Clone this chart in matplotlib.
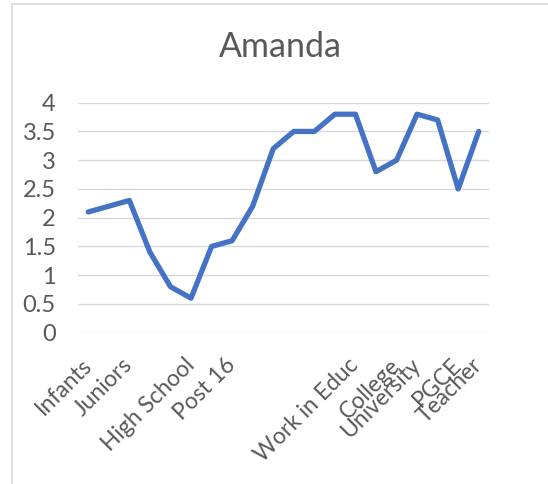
import matplotlib.pyplot as plt
from matplotlib.lines import Line2D

# stages along the career path; unnamed steps stay blank on the axis
stages = ['Infants', '', 'Juniors', '', '', 'High School', '', 'Post 16',
          '', '', '', '', '', 'Work in Educ', '', 'College', 'University',
          '', 'PGCE', 'Teacher']
scores = [2.1, 2.2, 2.3, 1.4, 0.8, 0.6, 1.5, 1.6, 2.2, 3.2,
          3.5, 3.5, 3.8, 3.8, 2.8, 3.0, 3.8, 3.7, 2.5, 3.5]
yticks = [0, 0.5, 1, 1.5, 2, 2.5, 3, 3.5, 4]
ytick_labels = ['0', '0.5', '1', '1.5', '2', '2.5', '3', '3.5', '4']

plt.rcParams['font.family'] = ['Lato', 'DejaVu Sans']
text_grey = '#595959'
grid_grey = '#d9d9d9'

fig = plt.figure(figsize=(5.48, 4.84), dpi=100)
ax = fig.add_axes([78 / 548, 1 - 332.7 / 484, 411 / 548, 230 / 484])

x = list(range(len(scores)))
ax.plot(x, scores, color='#4472C4', linewidth=3.8, solid_joinstyle='round',
        solid_capstyle='round', zorder=3)

ax.set_xlim(-0.5, len(scores) - 0.5)
ax.set_ylim(0, 4)
ax.set_yticks(yticks)
ax.set_yticklabels(ytick_labels)
ax.grid(axis='y', color=grid_grey, linewidth=1.0)
ax.set_axisbelow(True)
for side in ['top', 'right', 'left', 'bottom']:
    ax.spines[side].set_visible(False)

ax.tick_params(axis='y', length=0, pad=16, labelsize=17, labelcolor=text_grey)
ax.set_xticks(x)
ax.set_xticklabels(stages, rotation=45, ha='right', va='center',
                   rotation_mode='anchor')
ax.tick_params(axis='x', length=0, pad=21, labelsize=16.5, labelcolor=text_grey)

fig.text(280 / 548, 1 - 47 / 484, 'Amanda', ha='center', va='center',
         fontsize=24.5, color=text_grey)

# chart frame edges
fig.add_artist(Line2D([12 / 548, 12 / 548], [0, 1 - 4 / 484],
                      transform=fig.transFigure, color=grid_grey, linewidth=1.2))
fig.add_artist(Line2D([12 / 548, 1], [1 - 4 / 484, 1 - 4 / 484],
                      transform=fig.transFigure, color=grid_grey, linewidth=1.2))

fig.savefig('out.png', dpi=100)
plt.close(fig)
